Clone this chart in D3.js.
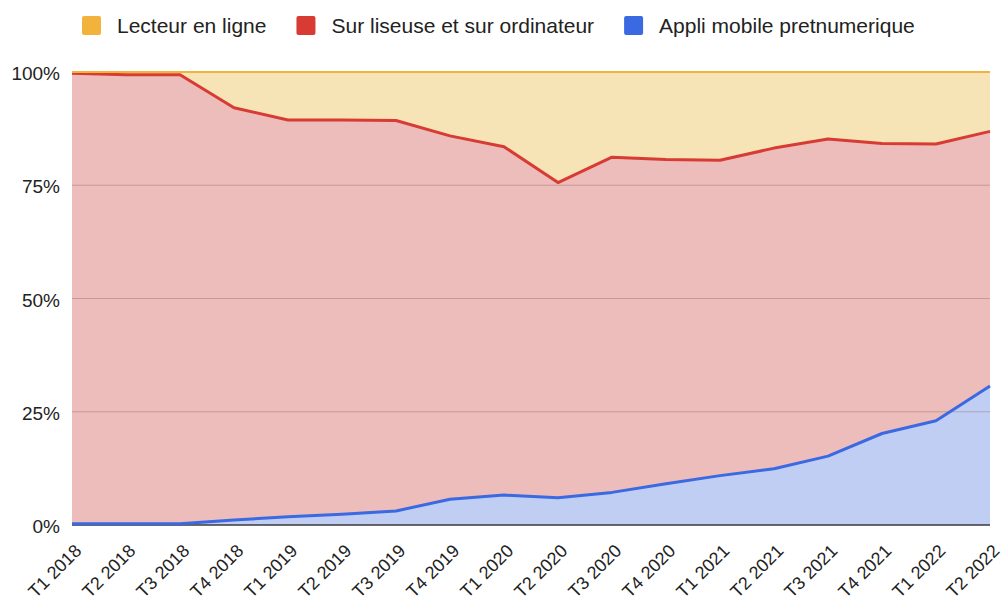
<!DOCTYPE html>
<html>
<head>
<meta charset="utf-8">
<script src="https://cdn.jsdelivr.net/npm/d3@7"></script>
<style>
  html, body { margin: 0; padding: 0; background: #fff; }
  svg { display: block; font-family: "Liberation Sans", Arial, sans-serif; }
</style>
</head>
<body>
<svg id="chart" width="1003" height="601"></svg>
<script>
// Quarters on the x axis
const quarters = [
  "T1 2018", "T2 2018", "T3 2018", "T4 2018",
  "T1 2019", "T2 2019", "T3 2019", "T4 2019",
  "T1 2020", "T2 2020", "T3 2020", "T4 2020",
  "T1 2021", "T2 2021", "T3 2021", "T4 2021",
  "T1 2022", "T2 2022"
];

// Share of reading (%) per quarter, by reading mode
const appliMobile = [0.3, 0.3, 0.3, 1.1, 1.8, 2.4, 3.1, 5.7, 6.6, 6.0, 7.2, 9.1, 10.9, 12.4, 15.2, 20.2, 23.0, 30.7];
const liseuseOrdi = [99.4, 99.1, 99.1, 91.0, 87.6, 87.0, 86.2, 80.2, 76.9, 69.6, 74.0, 71.6, 69.6, 70.8, 70.0, 64.0, 61.1, 56.2];
const lecteurLigne = [0.3, 0.6, 0.6, 7.9, 10.6, 10.6, 10.7, 14.1, 16.5, 24.4, 18.8, 19.3, 19.5, 16.8, 14.8, 15.8, 15.9, 13.1];

// Series names, in stacking order (bottom to top)
const seriesNames = ["Appli mobile pretnumerique", "Sur liseuse et sur ordinateur", "Lecteur en ligne"];
const legendOrder = ["Lecteur en ligne", "Sur liseuse et sur ordinateur", "Appli mobile pretnumerique"];
const yTicks = [0, 25, 50, 75, 100];

const colors = {
  "Lecteur en ligne": { line: "#f2b33d", fill: "#f6e4b6" },
  "Sur liseuse et sur ordinateur": { line: "#d83b33", fill: "#ecbdbb" },
  "Appli mobile pretnumerique": { line: "#3b69e2", fill: "#c1cef3" }
};

const rows = quarters.map((q, i) => ({
  quarter: q,
  "Appli mobile pretnumerique": appliMobile[i],
  "Sur liseuse et sur ordinateur": liseuseOrdi[i],
  "Lecteur en ligne": lecteurLigne[i]
}));

const width = 1003, height = 601;
const margin = { top: 72, right: 13, bottom: 76, left: 72 };
const innerW = width - margin.left - margin.right;
const innerH = height - margin.top - margin.bottom;

const svg = d3.select("#chart");
const g = svg.append("g").attr("transform", `translate(${margin.left},${margin.top})`);

const x = d3.scalePoint().domain(quarters).range([0, innerW]);
const y = d3.scaleLinear().domain([0, 100]).range([innerH, 0]);

// Normalise each quarter to 100 % before stacking
const stack = d3.stack().keys(seriesNames).offset(d3.stackOffsetExpand);
const stacked = stack(rows);

const area = d3.area()
  .x(d => x(d.data.quarter))
  .y0(d => y(d[0] * 100))
  .y1(d => y(d[1] * 100));

const topLine = d3.line()
  .x(d => x(d.data.quarter))
  .y(d => y(d[1] * 100));

// Filled bands
g.selectAll("path.band")
  .data(stacked)
  .join("path")
  .attr("class", "band")
  .attr("d", area)
  .attr("fill", s => colors[s.key].fill);

// Horizontal gridlines show through the bands
g.selectAll("line.grid")
  .data(yTicks.filter(t => t > 0 && t < 100))
  .join("line")
  .attr("class", "grid")
  .attr("x1", 0).attr("x2", innerW)
  .attr("y1", d => y(d)).attr("y2", d => y(d))
  .attr("stroke", "#7a4a4a")
  .attr("stroke-opacity", 0.3)
  .attr("stroke-width", 1.2);

// Baseline
g.append("line")
  .attr("x1", 0).attr("x2", innerW)
  .attr("y1", y(0)).attr("y2", y(0))
  .attr("stroke", "#3a3a3a")
  .attr("stroke-width", 1.6);

// Series outlines
g.selectAll("path.edge")
  .data(stacked)
  .join("path")
  .attr("class", "edge")
  .attr("d", topLine)
  .attr("fill", "none")
  .attr("stroke", s => colors[s.key].line)
  .attr("stroke-width", s => s.key === "Lecteur en ligne" ? 2.2 : 3)
  .attr("stroke-linejoin", "round");

// Y axis labels
const yAxis = d3.axisLeft(y).tickValues(yTicks).tickFormat(d => d + "%").tickSize(0).tickPadding(12);
const yg = g.append("g").call(yAxis);
yg.select(".domain").remove();
yg.selectAll("text")
  .attr("font-size", 19)
  .attr("fill", "#222")
  .attr("font-family", "\"Liberation Sans\", Arial, sans-serif")
  .attr("dy", "0.4em");

// X axis labels, rotated
const xAxis = d3.axisBottom(x).tickSize(0).tickPadding(0);
const xg = g.append("g").attr("transform", `translate(0,${innerH})`).call(xAxis);
xg.select(".domain").remove();
xg.selectAll("text")
  .attr("font-size", 18)
  .attr("fill", "#222")
  .attr("font-family", "\"Liberation Sans\", Arial, sans-serif")
  .attr("text-anchor", "end")
  .attr("dy", 0)
  .attr("y", 0)
  .attr("transform", "translate(10,27) rotate(-45)");

// Legend along the top
const legend = svg.append("g");
const sq = 19, gapText = 16, gapItem = 30;
const items = legend.selectAll("g.item").data(legendOrder).join("g").attr("class", "item");
items.append("rect")
  .attr("width", sq).attr("height", sq).attr("rx", 2)
  .attr("y", 16)
  .attr("fill", d => colors[d].line);
items.append("text")
  .attr("x", sq + gapText).attr("y", 33)
  .attr("font-size", 21)
  .attr("fill", "#222")
  .text(d => d);
let widths = [];
items.each(function () { widths.push(sq + gapText + d3.select(this).select("text").node().getComputedTextLength()); });
let cx = 82;
items.attr("transform", (d, i) => {
  const t = `translate(${cx},0)`;
  cx += widths[i] + gapItem;
  return t;
});
</script>
</body>
</html>
